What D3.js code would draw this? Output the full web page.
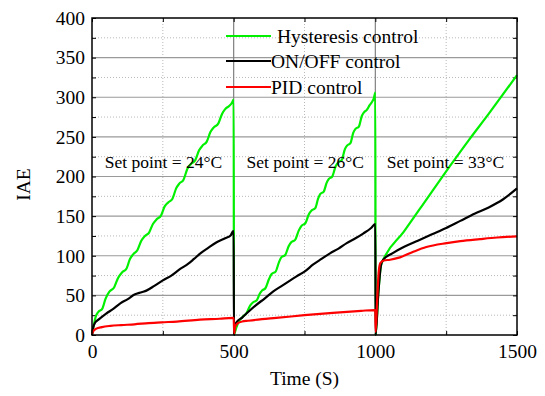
<!DOCTYPE html>
<html>
<head>
<meta charset="utf-8">
<script src="https://cdn.jsdelivr.net/npm/d3@7"></script>
<style>
  body { margin: 0; background: #fff; }
  svg text { font-family: "Liberation Serif", "Times New Roman", serif; fill: #000; }
</style>
</head>
<body>
<div id="chart"></div>
<script>
// tick values
var timeTicks = [0, 500, 1000, 1500];
var timeMinor = [250, 750, 1250];
var iaeTicks = [0, 50, 100, 150, 200, 250, 300, 350, 400];
var iaeMinor = [25, 75, 125, 175, 225, 275, 325, 375];

// series values [time (s), IAE]
var hysteresis = [
  [0,0],[6,12],[14,24],[22,29],[36,33],[48,46],[62,55],[78,60],[92,72],[106,79],[122,84],
  [134,96],[146,102],[160,107],[174,119],[187,125],[201,129],[215,140],[228,146],[244,151],
  [256,162],[268,167],[284,172],[297,185],[308,191],[323,196],[337,210],[350,216],[365,221],
  [378,233],[390,239],[405,244],[418,256],[430,262],[446,267],[459,279],[470,285],[484,289],
  [494,293],[500,297],[501,0],
  [503,2],[510,10],[520,18],[532,23],[546,28],[558,37],[568,41],[582,44],[592,52],[600,56],
  [612,59],[624,70],[634,77],[648,80],[660,92],[668,98],[682,101],[694,112],[703,117],[717,120],
  [730,132],[740,138],[753,141],[765,152],[775,157],[788,160],[798,172],[806,178],[818,181],
  [828,192],[836,197],[848,200],[860,213],[870,218],[882,221],[892,234],[900,239],[912,242],
  [922,255],[930,260],[942,263],[952,276],[960,281],[970,284],[980,290],[988,294],[995,299],
  [1000,306],[1001,0],
  [1010,50],[1020,88],[1028,95],[1100,130],[1190,176],[1263,213],[1330,246],[1400,279],[1500,328]
];
var onOff = [
  [0,0],[4,9],[12,16],[25,20],[50,27],[75,33],[100,40],[125,45],[150,51],[175,54],[192,56],
  [220,62],[250,69],[280,75],[310,83],[340,90],[360,96],[386,104],[410,110],[440,117],[470,122],
  [490,126],[498,131],[500,131],[501,0],
  [503,10],[510,16],[530,22],[551,29],[580,38],[609,46],[640,55],[670,62],[700,69],[722,74],
  [750,80],[781,89],[810,96],[840,103],[870,109],[899,116],[930,122],[957,128],[985,135],
  [999,140],[1000,140],[1001,0],
  [1010,50],[1020,88],[1028,95],[1060,103],[1100,111],[1150,119],[1200,127],[1250,135],
  [1300,144],[1350,153],[1400,161],[1450,171],[1500,185]
];
var pid = [
  [0,1],[5,5],[15,8],[35,10],[65,11.5],[103,12.5],[150,13.5],[200,15],[245,16],[300,17],
  [381,19.5],[450,20.5],[498,21.5],[500,21.5],[502,2],
  [505,10],[515,15],[530,17],[551,18],[600,20],[650,21.5],[750,25],[850,28],[950,30.5],
  [998,31.5],[1000,31.5],[1001,4],
  [1006,40],[1012,80],[1018,91],[1030,94],[1052,95],[1087,98],[1134,105],[1180,111],
  [1252,116],[1300,118.5],[1369,121],[1430,123],[1500,124.5]
];

var series = [
  {name: "Hysteresis control", values: hysteresis, color: "#00f000"},
  {name: "ON/OFF control", values: onOff, color: "#000000"},
  {name: "PID control", values: pid, color: "#ff0000"}
];
var setPoints = [
  {label: "Set point = 24\u00b0C", t: 45},
  {label: "Set point = 26\u00b0C", t: 545},
  {label: "Set point = 33\u00b0C", t: 1040}
];

var width = 545, height = 396;
var plotLeft = 92, plotRight = 517, plotTop = 18, plotBottom = 335;

var svg = d3.select("#chart").append("svg")
  .attr("width", width)
  .attr("height", height);

var x = d3.scaleLinear().domain([0, 1500]).range([plotLeft, plotRight]);
var y = d3.scaleLinear().domain([0, 400]).range([plotBottom, plotTop]);

// minor grid (dotted)
svg.append("g").selectAll("line").data(iaeMinor).enter().append("line")
  .attr("x1", plotLeft).attr("x2", plotRight)
  .attr("y1", function(d) { return y(d); }).attr("y2", function(d) { return y(d); })
  .attr("stroke", "#b8b8b8").attr("stroke-width", 1).attr("stroke-dasharray", "1,2");
svg.append("g").selectAll("line").data(timeMinor).enter().append("line")
  .attr("y1", plotTop).attr("y2", plotBottom)
  .attr("x1", function(d) { return x(d); }).attr("x2", function(d) { return x(d); })
  .attr("stroke", "#b8b8b8").attr("stroke-width", 1).attr("stroke-dasharray", "1,2");

// major grid (solid gray)
svg.append("g").selectAll("line").data(iaeTicks.slice(1, -1)).enter().append("line")
  .attr("x1", plotLeft).attr("x2", plotRight)
  .attr("y1", function(d) { return y(d); }).attr("y2", function(d) { return y(d); })
  .attr("stroke", "#9a9a9a").attr("stroke-width", 1.2);
svg.append("g").selectAll("line").data(timeTicks.slice(1, -1)).enter().append("line")
  .attr("y1", plotTop).attr("y2", plotBottom)
  .attr("x1", function(d) { return x(d); }).attr("x2", function(d) { return x(d); })
  .attr("stroke", "#808080").attr("stroke-width", 1.2);

// axes with labels, ticks pointing inward
var xAxis = svg.append("g")
  .attr("transform", "translate(0," + plotBottom + ")")
  .call(d3.axisBottom(x).tickValues(timeTicks).tickFormat(d3.format("d"))
    .tickSizeInner(-4).tickSizeOuter(0).tickPadding(9));
var yAxis = svg.append("g")
  .attr("transform", "translate(" + plotLeft + ",0)")
  .call(d3.axisLeft(y).tickValues(iaeTicks).tickFormat(d3.format("d"))
    .tickSizeInner(-4).tickSizeOuter(0).tickPadding(7));
[xAxis, yAxis].forEach(function(a) {
  a.select(".domain").remove();
  a.selectAll("text").style("font-size", "19.5px").attr("fill", "#000");
  a.selectAll("line").attr("stroke", "#000");
});

// minor ticks and ticks on the opposite sides
svg.append("g").attr("transform", "translate(0," + plotBottom + ")")
  .call(d3.axisBottom(x).tickValues(timeMinor).tickSize(-4).tickFormat(""));
svg.append("g").attr("transform", "translate(" + plotLeft + ",0)")
  .call(d3.axisLeft(y).tickValues(iaeMinor).tickSize(-4).tickFormat(""));
svg.append("g").attr("transform", "translate(" + plotRight + ",0)")
  .call(d3.axisRight(y).tickValues(iaeTicks.concat(iaeMinor)).tickSize(-4).tickFormat(""));
svg.append("g").attr("transform", "translate(0," + plotTop + ")")
  .call(d3.axisTop(x).tickValues(timeTicks.concat(timeMinor)).tickSize(-4).tickFormat(""));
svg.selectAll(".domain").remove();

// lines
var line = d3.line()
  .x(function(d) { return x(d[0]); })
  .y(function(d) { return y(d[1]); })
  .curve(d3.curveMonotoneX);

svg.selectAll(".series")
  .data(series)
  .enter()
  .append("path")
  .attr("class", "series")
  .attr("d", function(d) { return line(d.values); })
  .attr("fill", "none")
  .attr("stroke", function(d) { return d.color; })
  .attr("stroke-width", 2.2)
  .attr("stroke-linejoin", "round");

// frame
svg.append("rect")
  .attr("x", plotLeft).attr("y", plotTop)
  .attr("width", plotRight - plotLeft).attr("height", plotBottom - plotTop)
  .attr("fill", "none").attr("stroke", "#000").attr("stroke-width", 1.5);

// set point labels
svg.selectAll(".sp")
  .data(setPoints)
  .enter()
  .append("text")
  .attr("class", "sp")
  .attr("x", function(d) { return x(d.t); })
  .attr("y", 168)
  .style("font-size", "17.5px")
  .text(function(d) { return d.label; });

// legend
var legend = svg.append("g");
var legendY = [36, 61, 87];
var textX = [277, 271, 271];
series.forEach(function(s, i) {
  legend.append("line")
    .attr("x1", 226).attr("x2", 271)
    .attr("y1", legendY[i]).attr("y2", legendY[i])
    .attr("stroke", s.color).attr("stroke-width", 2.2);
  legend.append("text")
    .attr("x", textX[i]).attr("y", legendY[i] + 7)
    .style("font-size", "19.5px")
    .text(s.name);
});

// axis titles
svg.append("text")
  .attr("x", (plotLeft + plotRight) / 2).attr("y", 385)
  .attr("text-anchor", "middle")
  .style("font-size", "19.5px")
  .text("Time (S)");
svg.append("text")
  .attr("transform", "translate(30," + ((plotTop + plotBottom) / 2 + 8) + ") rotate(-90)")
  .attr("text-anchor", "middle")
  .style("font-size", "19.5px")
  .text("IAE");
</script>
</body>
</html>
